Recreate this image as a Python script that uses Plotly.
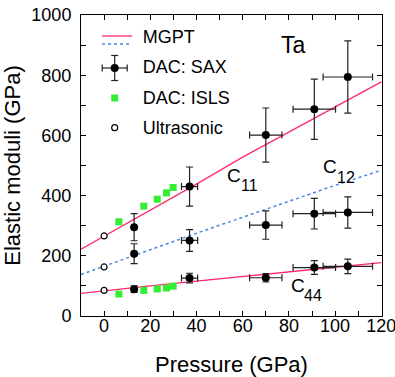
import plotly.graph_objects as go

# ---- data ----
p_mgpt = [-10, 0, 20, 40, 60, 80, 100, 120]
c11_mgpt = [222, 265, 350, 438, 528, 612, 695, 778]
c12_mgpt = [138, 166, 220, 275, 328, 382, 434, 484]
c44_mgpt = [75, 84, 100, 116, 132, 147, 162, 177]

p_sax = [13, 37, 70, 91, 105.5]
p_sax_err = [None, 3.5, 7, 9.2, 10.7]
c11_sax = [295, 430, 601, 687, 794]
c11_sax_err = [45, 65, 90, 100, 120]
c12_sax = [207, 251, 302, 340, 344]
c12_sax_err = [33, 36, 47, 51, 52]
c44_sax = [89, 126, 127, 161, 165]
c44_sax_err = [11, 16, 14, 23, 24]

p_isls = [6.4, 17.2, 23.0, 27.0, 29.9]
c11_isls = [313, 365, 388, 409, 427]
c44_isls = [73, 85, 90, 93, 99]

p_us = [0, 0, 0]
c_us = [266, 163, 85]

RED = "#ff2a6d"
BLUE = "#4a86e8"
GREEN = "#33ee33"
ERR = "#222222"
FONT = "Liberation Sans, Arial, sans-serif"
CLEAR = "rgba(0,0,0,0)"

fig = go.Figure()

# MGPT lines
for yv in [c11_mgpt, c44_mgpt]:
    fig.add_trace(go.Scatter(x=p_mgpt, y=yv, mode="lines",
                             line=dict(color=RED, width=1.3),
                             showlegend=False, hoverinfo="skip"))
fig.add_trace(go.Scatter(x=p_mgpt, y=c12_mgpt, mode="lines",
                         line=dict(color=BLUE, width=1.5, dash="dot"),
                         showlegend=False, hoverinfo="skip"))

# SAX
sax_sets = [(c11_sax, c11_sax_err), (c12_sax, c12_sax_err), (c44_sax, c44_sax_err)]
for yv, ye in sax_sets:
    fig.add_trace(go.Scatter(
        x=p_sax, y=yv, mode="markers", name="DAC: SAX",
        marker=dict(color="black", size=8),
        error_y=dict(type="data", array=ye, color=ERR, thickness=1.2, width=3.5),
        error_x=dict(type="data", array=p_sax_err, color=ERR, thickness=1.2, width=3.5),
        showlegend=False))

# ISLS
for yv in [c11_isls, c44_isls]:
    fig.add_trace(go.Scatter(
        x=p_isls, y=yv, mode="markers", name="DAC: ISLS",
        marker=dict(color=GREEN, size=7, symbol="square"),
        showlegend=False))

# Ultrasonic
fig.add_trace(go.Scatter(
    x=p_us, y=c_us, mode="markers", name="Ultrasonic",
    marker=dict(color="white", size=6, line=dict(color="black", width=1.2)),
    showlegend=False))

# legend entries (text from the legend; symbols drawn as shapes below)
for i, name in enumerate(["MGPT", "DAC: SAX", "DAC: ISLS", "Ultrasonic"]):
    fig.add_trace(go.Scatter(x=[None], y=[None], mode="lines", name=name,
                             line=dict(color=CLEAR, width=1), legendgroup=str(i)))

L, R, T, B = 81, 13, 15, 61
W, H = 395, 377
pw, ph = W - L - R, H - T - B


def px(xp):
    return (xp - L) / pw


def py(yp):
    return (H - B - yp) / ph


def seg(x0, y0, x1, y1, color, width=1.2, dash="solid"):
    return dict(type="line", xref="paper", yref="paper",
                x0=px(x0), x1=px(x1), y0=py(y0), y1=py(y1),
                line=dict(color=color, width=width, dash=dash))


def box(kind, xc, yc, r, fill, lc, lw):
    return dict(type=kind, xref="paper", yref="paper",
                x0=px(xc - r), x1=px(xc + r), y0=py(yc + r), y1=py(yc - r),
                fillcolor=fill, line=dict(color=lc, width=lw))


cx = 114.7
cy = 68
shapes = [
    # MGPT legend samples
    seg(102, 36, 132, 36, RED, 1.3),
    seg(102, 44, 132, 44, BLUE, 1.5, "dot"),
    # SAX legend error cross
    seg(cx - 12.5, cy, cx + 12.5, cy, ERR),
    seg(cx, cy - 12.5, cx, cy + 12.5, ERR),
    seg(cx - 12.5, cy - 3.5, cx - 12.5, cy + 3.5, ERR),
    seg(cx + 12.5, cy - 3.5, cx + 12.5, cy + 3.5, ERR),
    seg(cx - 3.5, cy - 12.5, cx + 3.5, cy - 12.5, ERR),
    seg(cx - 3.5, cy + 12.5, cx + 3.5, cy + 12.5, ERR),
    box("circle", cx, cy, 4, "black", "black", 0),
    # ISLS legend square
    box("rect", cx, 98, 3.5, GREEN, GREEN, 0),
    # Ultrasonic legend circle
    box("circle", cx, 127.7, 3, "white", "black", 1.2),
]
fig.update_layout(shapes=shapes)

ann_font = dict(family=FONT, size=19, color="black")
sub_font = dict(family=FONT, size=16, color="black")
annotations = [
    dict(x=82, y=900, text="Ta", showarrow=False, font=dict(family=FONT, size=23, color="black")),
    dict(x=52.3, y=468, text="C", showarrow=False, xanchor="left", font=ann_font),
    dict(x=52.3, y=468, text="11", showarrow=False, xanchor="left", xshift=14, yshift=-10, font=sub_font),
    dict(x=94.1, y=498, text="C", showarrow=False, xanchor="left", font=ann_font),
    dict(x=94.1, y=498, text="12", showarrow=False, xanchor="left", xshift=14, yshift=-11, font=sub_font),
    dict(x=80.1, y=102, text="C", showarrow=False, xanchor="left", font=ann_font),
    dict(x=80.1, y=102, text="44", showarrow=False, xanchor="left", xshift=13, yshift=-10, font=sub_font),
]

fig.update_layout(
    width=W, height=H,
    margin=dict(l=L, r=R, t=T, b=B, autoexpand=False),
    paper_bgcolor="white", plot_bgcolor="white",
    font=dict(family=FONT, size=18, color="black"),
    annotations=annotations,
    showlegend=True,
    legend=dict(x=px(94.7), y=py(17.5), xanchor="left", yanchor="top",
                bgcolor="rgba(0,0,0,0)", borderwidth=0,
                font=dict(family=FONT, size=18, color="black"),
                tracegroupgap=4, itemwidth=38),
    xaxis=dict(range=[-10, 120.3], tickmode="linear", tick0=0, dtick=20,
               ticks="inside", ticklen=5, tickwidth=1, tickcolor="black",
               minor=dict(dtick=10, tick0=0, ticks="inside", ticklen=5, tickcolor="black"),
               showline=True, linecolor="black", linewidth=1, mirror="ticks",
               showgrid=False, zeroline=False, automargin=False,
               ticklabeloverflow="allow", ticklabelstandoff=-7,
               title=dict(text="Pressure (GPa)", standoff=22),
               tickfont=dict(family=FONT, size=18)),
    yaxis=dict(range=[0, 1000], tickmode="linear", tick0=0, dtick=200,
               ticks="inside", ticklen=5, tickwidth=1, tickcolor="black",
               minor=dict(dtick=100, tick0=0, ticks="inside", ticklen=5, tickcolor="black"),
               showline=True, linecolor="black", linewidth=1, mirror="ticks",
               showgrid=False, zeroline=False, automargin=False,
               title=dict(text="Elastic moduli (GPa)", standoff=8),
               ticklabelstandoff=5,
               tickfont=dict(family=FONT, size=18)),
)

fig.write_html("out.html")
